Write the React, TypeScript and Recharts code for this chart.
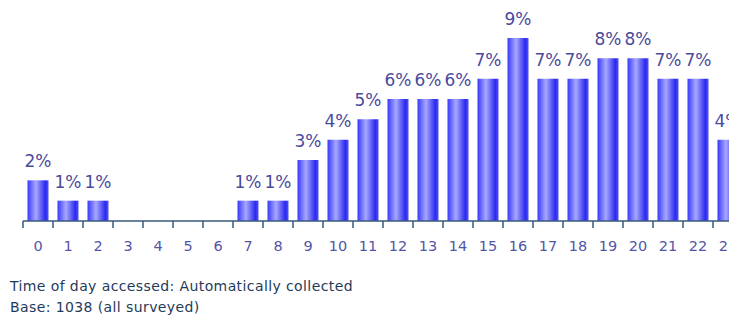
import { BarChart, Bar, XAxis, YAxis, LabelList } from "recharts";

const hours = [
  "0", "1", "2", "3", "4", "5", "6", "7", "8", "9", "10", "11",
  "12", "13", "14", "15", "16", "17", "18", "19", "20", "21", "22", "23",
];
const share = [2, 1, 1, 0, 0, 0, 0, 1, 1, 3, 4, 5, 6, 6, 6, 7, 9, 7, 7, 8, 8, 7, 7, 4];
const footnotes = [
  "Time of day accessed: Automatically collected",
  "Base: 1038 (all surveyed)",
];

const data = hours.map((h, i) => ({ hour: h, value: share[i] }));

const HourTick = (props: any) => {
  const { x, y, payload } = props;
  const axisY = y - 8;
  return (
    <g>
      <line x1={x - 15} y1={axisY} x2={x - 15} y2={axisY + 7} stroke="#3a5a78" strokeWidth={1.5} />
      <text x={x} y={y + 22} textAnchor="middle" fill="#5555a8" fontSize={14.5} fontFamily="'DejaVu Sans', sans-serif">
        {payload.value}
      </text>
    </g>
  );
};

const PctLabel = (props: any) => {
  const { x, y, width, value } = props;
  if (!value) return null;
  return (
    <text
      x={x + width / 2}
      y={y - 13}
      textAnchor="middle"
      fill="#4a4a9c"
      fontSize={17}
      fontFamily="'DejaVu Sans', sans-serif"
    >
      {value}%
    </text>
  );
};

export default function App() {
  return (
    <div
      style={{
        width: 729,
        height: 310,
        overflow: "hidden",
        position: "relative",
        fontFamily: "'DejaVu Sans', sans-serif",
      }}
    >
      <BarChart
        width={760}
        height={260}
        data={data}
        margin={{ top: 30, right: 25, left: 15, bottom: 0 }}
        barCategoryGap="15%"
      >
        <defs>
          <linearGradient id="barFill" x1="0" y1="0" x2="1" y2="0">
            <stop offset="0%" stopColor="#3838ff" />
            <stop offset="40%" stopColor="#a8a8ff" />
            <stop offset="85%" stopColor="#2a2af0" />
            <stop offset="100%" stopColor="#5050ff" />
          </linearGradient>
        </defs>
        <XAxis
          dataKey="hour"
          interval={0}
          tickLine={false}
          tickSize={6}
          tickMargin={2}
          height={47}
          stroke="#3a5a78"
          strokeWidth={1.5}
          tick={<HourTick />}
        />
        <YAxis hide domain={[0, 9]} />
        <Bar dataKey="value" fill="url(#barFill)" isAnimationActive={false}>
          <LabelList dataKey="value" content={<PctLabel />} />
        </Bar>
      </BarChart>
      <div
        style={{
          position: "absolute",
          left: 2,
          top: 268,
          color: "#1e3a5a",
          fontSize: 14,
          letterSpacing: 0.4,
          lineHeight: "21px",
        }}
      >
        {footnotes.map((t) => (
          <div key={t}>{t}</div>
        ))}
      </div>
    </div>
  );
}
